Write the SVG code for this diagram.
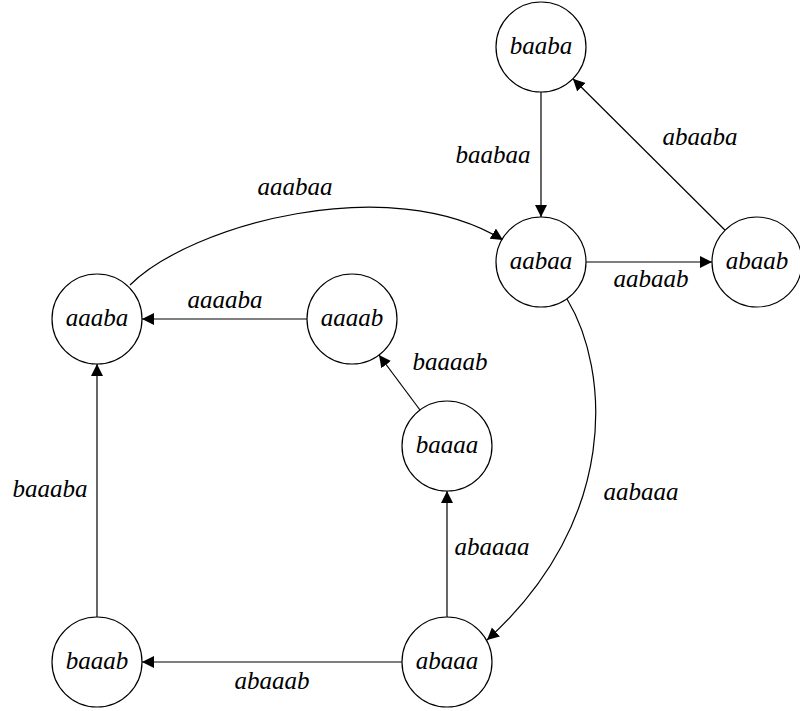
<svg xmlns="http://www.w3.org/2000/svg" width="800" height="711" viewBox="0 0 800 711">
<style>
.node circle{fill:#fff;stroke:#000;stroke-width:1.2}
text{font-family:"Liberation Serif","Times New Roman",serif;font-style:italic;font-size:25px;fill:#000;text-anchor:middle}
.edges path,.edges line{fill:none;stroke:#000;stroke-width:1.2;marker-end:url(#ah)}
</style>
<defs>
<marker id="ah" markerUnits="userSpaceOnUse" markerWidth="13" markerHeight="13" refX="12" refY="6" orient="auto">
<path d="M0,0 L12,6 L0,12 z" fill="#000"/>
</marker>
</defs>
<rect width="800" height="711" fill="#fff"/>
<g class="edges">
<line x1="541" y1="92" x2="541" y2="217"/>
<line x1="725.1" y1="230.3" x2="572.9" y2="78.7"/>
<line x1="586" y1="262" x2="712" y2="262"/>
<path d="M130,285 C190,225 390,170 503,240"/>
<line x1="307" y1="319" x2="142" y2="319"/>
<line x1="420" y1="410" x2="379" y2="355"/>
<path d="M567,299 C610,370 620,520 487,640"/>
<line x1="447" y1="617" x2="447" y2="491"/>
<line x1="402" y1="662" x2="142" y2="662"/>
<line x1="97" y1="617" x2="97" y2="364"/>
</g>
<g class="labels">
<text x="493" y="163">baabaa</text>
<text x="700" y="145">abaaba</text>
<text x="651" y="287">aabaab</text>
<text x="295" y="195">aaabaa</text>
<text x="225" y="308">aaaaba</text>
<text x="450" y="370">baaaab</text>
<text x="641" y="500">aabaaa</text>
<text x="492" y="555">abaaaa</text>
<text x="272" y="689">abaaab</text>
<text x="50" y="497">baaaba</text>
</g>
<g id="baaba" class="node"><circle cx="541" cy="47" r="45"/><text x="541" y="54">baaba</text></g>
<g id="aabaa" class="node"><circle cx="541" cy="262" r="45"/><text x="541" y="269">aabaa</text></g>
<g id="abaab" class="node"><circle cx="757" cy="262" r="45"/><text x="757" y="269">abaab</text></g>
<g id="aaaba" class="node"><circle cx="97" cy="319" r="45"/><text x="97" y="326">aaaba</text></g>
<g id="aaaab" class="node"><circle cx="352" cy="319" r="45"/><text x="352" y="326">aaaab</text></g>
<g id="baaaa" class="node"><circle cx="447" cy="446" r="45"/><text x="447" y="453">baaaa</text></g>
<g id="abaaa" class="node"><circle cx="447" cy="662" r="45"/><text x="447" y="669">abaaa</text></g>
<g id="baaab" class="node"><circle cx="97" cy="662" r="45"/><text x="97" y="669">baaab</text></g>
</svg>
